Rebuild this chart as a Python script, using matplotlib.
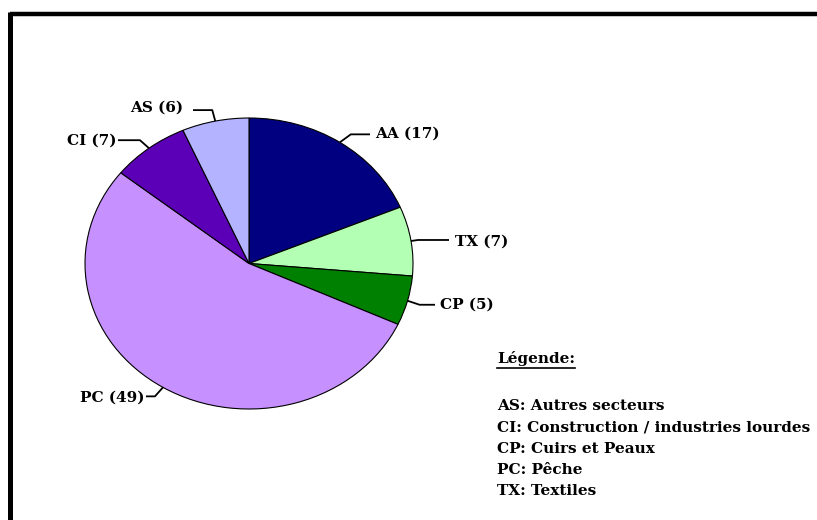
import numpy as np
import matplotlib
matplotlib.use("Agg")
import matplotlib.pyplot as plt

# données du graphique
codes = ["AA", "TX", "CP", "PC", "CI", "AS"]
valeurs = [17, 7, 5, 49, 7, 6]
couleurs = ["#000080", "#B3FFB3", "#008000", "#C690FF", "#5C00B8", "#B3B3FF"]
legende_titre = "Légende:"
legende_lignes = [
    "AS: Autres secteurs",
    "CI: Construction / industries lourdes",
    "CP: Cuirs et Peaux",
    "PC: Pêche",
    "TX: Textiles",
]

W, H = 817, 520
plt.rcParams["font.family"] = ["DejaVu Serif", "Liberation Serif"]
plt.rcParams["font.weight"] = "bold"
FS = 11

fig = plt.figure(figsize=(W / 100, H / 100), dpi=100)

# zone du camembert (pixels image)
px0, px1, py0, py1 = 85, 413, 118, 409
ax = fig.add_axes([px0 / W, 1 - py1 / H, (px1 - px0) / W, (py1 - py0) / H])
wedges, _ = ax.pie(valeurs, colors=couleurs, startangle=90, counterclock=False,
                   wedgeprops=dict(edgecolor="black", linewidth=0.8))
ax.set_aspect("auto")
ax.set_xlim(-1, 1)
ax.set_ylim(-1, 1)

# couche de texte en pixels
ov = fig.add_axes([0, 0, 1, 1])
ov.set_xlim(0, W)
ov.set_ylim(H, 0)
ov.axis("off")
ov.patch.set_alpha(0)

cx, cy = (px0 + px1) / 2, (py0 + py1) / 2
rx, ry = (px1 - px0) / 2, (py1 - py0) / 2

# (coude dx, coude dy, fin x, texte x, texte y, alignement)
placement = {
    "AA": (11, -8, 370, 375, 134, "left"),
    "TX": (7, -1, 449, 455, 242, "left"),
    "CP": (12, 4, 435, 440, 305, "left"),
    "PC": (-8, 9, 146, 145, 398, "right"),
    "CI": (-9, -8, 118, 117, 141, "right"),
    "AS": (-3, -11, 193, 183, 108, "right"),
}

for w, code, v in zip(wedges, codes, valeurs):
    a = np.deg2rad((w.theta1 + w.theta2) / 2)
    ex, ey = cx + rx * np.cos(a), cy - ry * np.sin(a)
    dx, dy, fx, tx, ty, ha = placement[code]
    elx, ely = ex + dx, ey + dy
    ov.plot([ex, elx, fx], [ey, ely, ely], color="black", lw=1.3,
            solid_capstyle="butt")
    ov.text(tx, ty, f"{code} ({v})", ha=ha, va="center", fontsize=FS,
            fontweight="bold")

# légende texte
ov.text(497, 358, legende_titre, ha="left", va="center", fontsize=FS,
        fontweight="bold")
ov.plot([497, 575], [368, 368], color="black", lw=1.2)
for i, ligne in enumerate(legende_lignes):
    ov.text(497, 406 + i * 21.3, ligne, ha="left", va="center", fontsize=FS,
            fontweight="bold")

# bordure haut / gauche
ov.plot([10, W], [13.5, 13.5], color="black", lw=3.2, solid_capstyle="butt")
ov.plot([10.5, 10.5], [12, H], color="black", lw=3.6, solid_capstyle="butt")

fig.savefig("out.png", dpi=100)
